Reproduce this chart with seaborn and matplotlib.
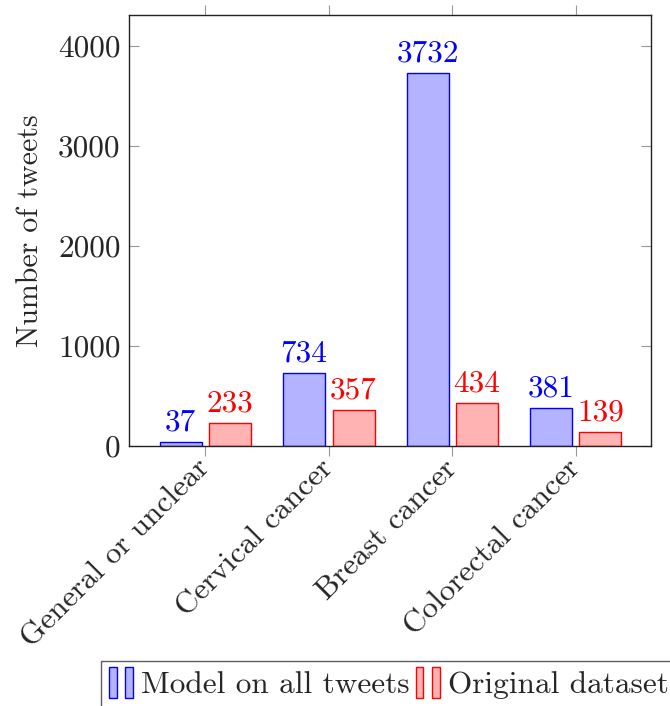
import matplotlib
matplotlib.use("Agg")
import matplotlib.pyplot as plt
from matplotlib.patches import Rectangle
from matplotlib.legend_handler import HandlerBase
import seaborn as sns
import pandas as pd

categories = ["General or unclear", "Cervical cancer", "Breast cancer", "Colorectal cancer"]
series_names = ["Model on all tweets", "Original dataset"]
model_counts = [37, 734, 3732, 381]
original_counts = [233, 357, 434, 139]
y_ticks = [0, 1000, 2000, 3000, 4000]

fill_colors = ["#b3b3ff", "#ffb3b3"]
edge_colors = ["#0000ff", "#ff0000"]

df = pd.DataFrame({
    "category": categories * 2,
    "series": [series_names[0]] * 4 + [series_names[1]] * 4,
    "count": model_counts + original_counts,
})

sns.set_style("white")
plt.rcParams["font.family"] = ["cmr10"]
plt.rcParams["axes.unicode_minus"] = False
plt.rcParams["mathtext.fontset"] = "cm"
FS = 22.5


class TwinBarHandler(HandlerBase):
    """Legend key made of two thin bars, like a grouped-bar legend image."""

    def create_artists(self, legend, orig_handle, xdescent, ydescent,
                       width, height, fontsize, trans):
        fc, ec = orig_handle.get_facecolor(), orig_handle.get_edgecolor()
        bw = width * 0.32
        artists = []
        for x0 in (0.0, width - bw):
            r = Rectangle((x0 - xdescent, -ydescent - height * 0.05), bw, height * 1.1,
                          facecolor=fc, edgecolor=ec, linewidth=1.0, transform=trans)
            artists.append(r)
        return artists


fig = plt.figure(figsize=(6.7, 7.06), dpi=100)
ax = fig.add_axes([0.1925, 0.3683, 0.7791, 0.6105])

sns.barplot(data=df, x="category", y="count", hue="series", order=categories,
            hue_order=series_names, palette=fill_colors, gap=0.15,
            linewidth=1.0, saturation=1.0, legend=False, ax=ax, errorbar=None)

for cont, ec, vals in zip(ax.containers, edge_colors, [model_counts, original_counts]):
    for bar in cont:
        bar.set_edgecolor(ec)
        bar.set_linewidth(1.0)
    ax.bar_label(cont, labels=[str(v) for v in vals], color=ec, fontsize=FS, padding=4)

ax.set_xlim(-0.62, 3.61)
ax.set_ylim(0, 4310)
ax.set_yticks(y_ticks)
ax.set_yticklabels([str(t) for t in y_ticks], fontsize=FS)
ax.set_xlabel("")
ax.set_ylabel("Number of tweets", fontsize=21.5, labelpad=10)

ax.set_xticks(range(len(categories)))
ax.set_xticklabels(categories, fontsize=FS, rotation=45, ha="right",
                   va="center", rotation_mode="anchor")
ax.tick_params(axis="x", direction="out", length=7, width=0.8, color="#999999",
               top=True, bottom=True, labeltop=False, pad=6)
ax.tick_params(axis="y", direction="in", length=7, width=0.8, color="#999999",
               left=True, right=True, pad=6)
for sp in ax.spines.values():
    sp.set_color("#222222")
    sp.set_linewidth(1.0)

handles = [Rectangle((0, 0), 1, 1, facecolor=fc, edgecolor=ec)
           for fc, ec in zip(fill_colors, edge_colors)]

leg = fig.legend(handles, series_names, handler_map={Rectangle: TwinBarHandler()},
                 loc="upper left", bbox_to_anchor=(0.151, 0.064), ncol=2,
                 fontsize=FS, frameon=True, fancybox=False, edgecolor="#333333",
                 handlelength=0.77, handleheight=1.0, handletextpad=0.25,
                 columnspacing=0.2, borderpad=0.25, borderaxespad=0)
leg.get_frame().set_linewidth(1.0)

fig.savefig("out.png", dpi=100)
